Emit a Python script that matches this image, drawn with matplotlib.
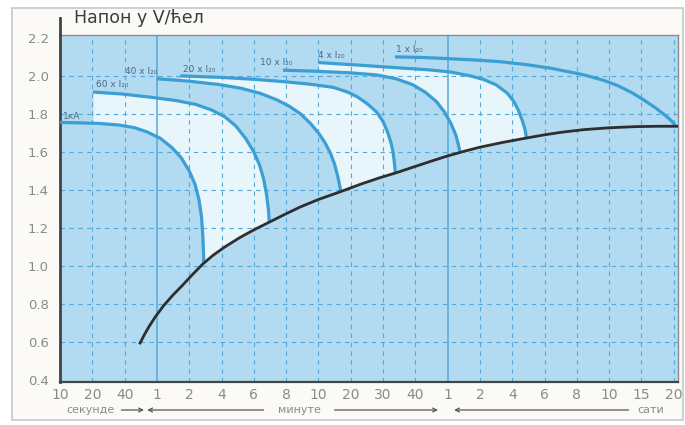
import numpy as np
import matplotlib
matplotlib.use("Agg")
import matplotlib.pyplot as plt
import matplotlib.transforms as mtransforms
from matplotlib.patches import Rectangle

# ---------------- data ----------------
x_labels = ['10', '20', '40', '1', '2', '4', '6', '8', '10', '20', '30', '40',
            '1', '2', '4', '6', '8', '10', '15', '20']
y_ticks = [0.4, 0.6, 0.8, 1.0, 1.2, 1.4, 1.6, 1.8, 2.0, 2.2]
y_ticklabels = ['0.4', '0.6', '0.8', '1.0', '1.2', '1.4', '1.6', '1.8', '2.0', '2.2']

title_text = 'Напон у V/ћел'
unit_labels = ['секунде', 'минуте', 'сати']

curve_names = ['1кА', '60 x I₂₀', '40 x I₂₀', '20 x I₂₀',
               '10 x I₂₀', '4 x I₂₀', '1 x I₂₀']

c1_x = [0, 0.6, 1.2, 1.8, 2.3, 2.7, 3.1, 3.45, 3.75, 4.0, 4.18, 4.3, 4.38, 4.42, 4.44, 4.45]
c1_v = [1.755, 1.753, 1.75, 1.742, 1.728, 1.705, 1.672, 1.625, 1.57, 1.50, 1.43, 1.35, 1.26, 1.16, 1.08, 1.02]

c2_x = [1.02, 1.9, 2.8, 3.6, 4.2, 4.7, 5.1, 5.45, 5.75, 6.0, 6.18, 6.3, 6.39, 6.45, 6.48]
c2_v = [1.915, 1.905, 1.888, 1.87, 1.85, 1.82, 1.785, 1.735, 1.67, 1.60, 1.53, 1.46, 1.38, 1.30, 1.23]

c3_x = [3.0, 4.0, 4.9, 5.6, 6.2, 6.7, 7.1, 7.45, 7.75, 8.0, 8.2, 8.38, 8.5, 8.6, 8.66, 8.7]
c3_v = [1.985, 1.972, 1.955, 1.935, 1.908, 1.875, 1.84, 1.80, 1.75, 1.70, 1.65, 1.59, 1.535, 1.47, 1.42, 1.39]

c4_x = [3.72, 5.0, 6.0, 6.9, 7.7, 8.45, 8.9, 9.2, 9.5, 9.8, 10.0, 10.15, 10.25, 10.31, 10.35, 10.38]
c4_v = [2.0, 1.992, 1.982, 1.97, 1.957, 1.94, 1.915, 1.89, 1.855, 1.81, 1.76, 1.70, 1.645, 1.60, 1.545, 1.49]

c5_x = [6.9, 8.0, 9.0, 9.8, 10.4, 10.9, 11.3, 11.65, 11.9, 12.1, 12.25, 12.33, 12.38]
c5_v = [2.03, 2.024, 2.016, 2.005, 1.985, 1.955, 1.915, 1.865, 1.81, 1.75, 1.69, 1.64, 1.60]

c6_x = [8.0, 9.3, 10.5, 11.4, 12.1, 12.7, 13.1, 13.5, 13.84, 14.05, 14.2, 14.32, 14.4, 14.44]
c6_v = [2.07, 2.056, 2.042, 2.032, 2.02, 2.0, 1.982, 1.953, 1.91, 1.865, 1.815, 1.76, 1.715, 1.67]

c7_x = [10.37, 11.2, 12.1, 12.9, 13.6, 14.4, 15.2, 16.2, 16.8, 17.25, 17.7, 18.1, 18.45, 18.75, 18.95, 19.06]
c7_v = [2.10, 2.097, 2.09, 2.083, 2.075, 2.06, 2.04, 2.006, 1.978, 1.95, 1.912, 1.87, 1.83, 1.79, 1.76, 1.735]

end_x = [2.48, 2.6, 2.75, 2.94, 3.2, 3.5, 3.8, 4.1, 4.43, 4.75, 5.1, 5.57, 6.0, 6.47, 7.0,
         7.43, 8.0, 8.67, 9.3, 9.91, 10.4, 10.93, 11.5, 11.98, 12.5, 13.0, 13.7, 14.4,
         15.0, 15.5, 16.2, 17.0, 17.8, 18.5, 19.13]
end_v = [0.595, 0.635, 0.68, 0.73, 0.79, 0.848, 0.9, 0.955, 1.012, 1.058, 1.1, 1.15, 1.19,
         1.23, 1.275, 1.31, 1.35, 1.39, 1.43, 1.465, 1.49, 1.52, 1.552, 1.578, 1.603,
         1.625, 1.65, 1.672, 1.69, 1.703, 1.717, 1.727, 1.733, 1.735, 1.735]

curves = [(c1_x, c1_v), (c2_x, c2_v), (c3_x, c3_v), (c4_x, c4_v),
          (c5_x, c5_v), (c6_x, c6_v), (c7_x, c7_v)]

# ---------------- style ----------------
BG_BLUE = '#b2daf1'
PALE = '#e8f5fb'
CURVE = '#3b9fd3'
GRID = '#55a9d8'
FIG_BG = '#fbfaf6'
TXT = '#8a8a8a'

fig = plt.figure(figsize=(6.85, 4.25), dpi=100, facecolor='white')
fig.patches.append(Rectangle((12 / 685, 5 / 425), 671 / 685, 412 / 425,
                             transform=fig.transFigure, facecolor=FIG_BG,
                             edgecolor='#c8c8c8', lw=1.2, zorder=-10))

ax = fig.add_axes([60 / 685, 1 - 382 / 425, 618 / 685, 347 / 425])
ax.set_facecolor(BG_BLUE)
ax.set_xlim(0, 19.13)
ax.set_ylim(0.39, 2.215)

# pale bands between curve pairs (1-2, 3-4, 5-6)
grid_x = np.linspace(0, 19.13, 4000)
end_i = np.interp(grid_x, end_x, end_v, left=0.0)
for lo, hi in [(0, 1), (2, 3), (4, 5)]:
    lx, lv = curves[lo]
    hx, hv = curves[hi]
    lower = np.maximum(np.interp(grid_x, lx, lv), end_i)
    upper = np.interp(grid_x, hx, hv)
    mask = (grid_x >= hx[0]) & (grid_x <= hx[-1])
    ax.fill_between(grid_x, lower, upper, where=mask & (upper > lower),
                    color=PALE, lw=0, zorder=1)

# grid
for i in range(1, len(x_labels)):
    if i in (3, 12):
        ax.axvline(i, color=GRID, lw=1.1, zorder=2)
    else:
        ax.axvline(i, color=GRID, lw=0.8, ls=(0, (4, 4)), zorder=2)
for y in y_ticks[1:-1]:
    ax.axhline(y, color=GRID, lw=0.8, ls=(0, (4, 4)), zorder=2)

# discharge curves
for cx, cv in curves:
    ax.plot(cx, cv, color=CURVE, lw=2.3, solid_capstyle='butt',
            solid_joinstyle='round', zorder=4)
ax.plot(end_x, end_v, color='#2e2e2e', lw=2.0, solid_joinstyle='round', zorder=5)

# curve labels
label_pos = [(0.1, 1.765), (1.1, 1.93), (2.0, 2.0), (3.8, 2.012),
             (6.2, 2.045), (8.0, 2.083), (10.4, 2.113)]
for name, (lx, ly) in zip(curve_names, label_pos):
    ax.text(lx, ly, name, fontsize=6.5, color='#4a6a80', ha='left', va='bottom',
            zorder=6)

# axes styling
ax.set_xticks(range(len(x_labels)))
ax.set_xticklabels(x_labels, fontsize=10, color=TXT)
ax.set_yticks(y_ticks)
ax.set_yticklabels(y_ticklabels, fontsize=9.5, color=TXT)
ax.tick_params(length=0, pad=4)
ax.tick_params(axis='y', pad=8)
for side in ('top', 'right'):
    ax.spines[side].set_color('#8c8c8c')
    ax.spines[side].set_linewidth(1.0)
ax.spines['left'].set_color('#444444')
ax.spines['left'].set_linewidth(2.0)
ax.spines['bottom'].set_color('#444444')
ax.spines['bottom'].set_linewidth(1.6)

fig.add_artist(plt.Line2D([60 / 685, 60 / 685], [1 - 35 / 425, 1 - 18 / 425],
                          color='#444444', lw=2.0))
fig.text(74 / 685, 1 - 18 / 425, title_text, fontsize=12.5, color='#3c3c3c',
         ha='left', va='center')

# bottom unit labels with arrows
trans = mtransforms.blended_transform_factory(ax.transData, fig.transFigure)
yb = 1 - 410 / 425
ax.text(0.95, yb, unit_labels[0], transform=trans, fontsize=8, color=TXT,
        ha='center', va='center')
ax.text(7.4, yb, unit_labels[1], transform=trans, fontsize=8, color=TXT,
        ha='center', va='center')
ax.text(18.3, yb, unit_labels[2], transform=trans, fontsize=8, color=TXT,
        ha='center', va='center')
arrows = [((1.9, 2.6), '->'), ((2.7, 6.3), '<-'), ((8.5, 11.7), '->'),
          ((12.2, 17.6), '<-')]
for (a, b), style in arrows:
    ax.annotate('', xy=(b, yb), xytext=(a, yb), xycoords=trans,
                textcoords=trans,
                arrowprops=dict(arrowstyle=style, color='#555555', lw=0.9,
                                shrinkA=0, shrinkB=0, mutation_scale=7),
                annotation_clip=False)

fig.savefig('out.png', dpi=100, facecolor=fig.get_facecolor())
